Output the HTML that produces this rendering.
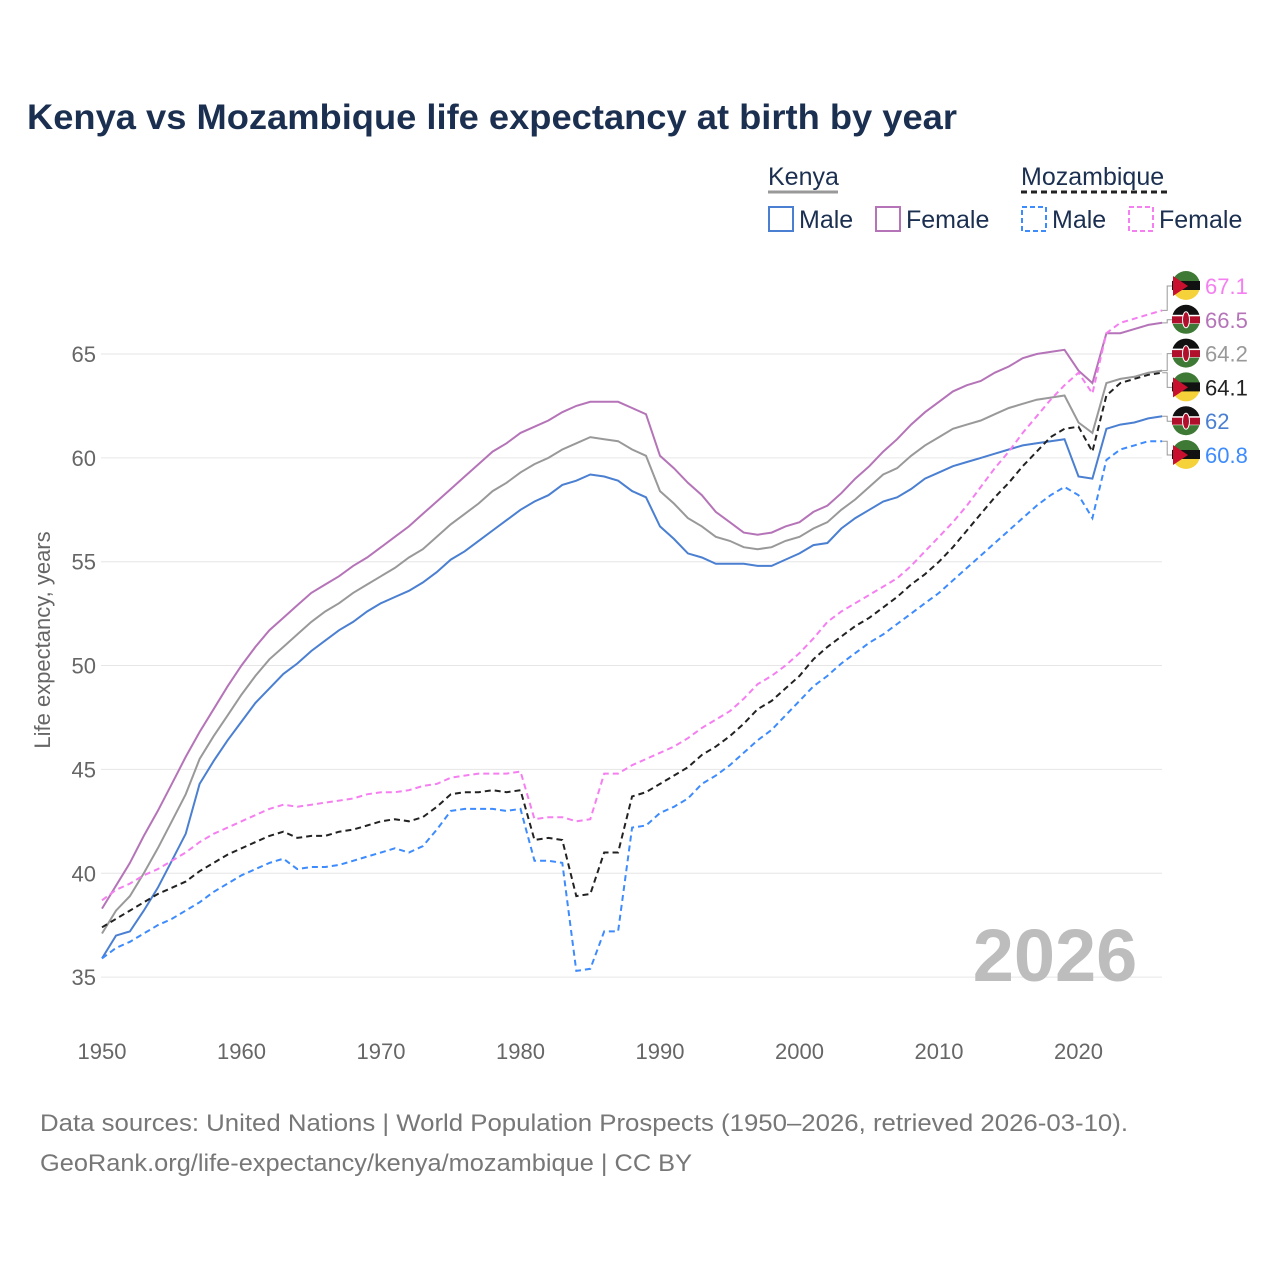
<!DOCTYPE html>
<html><head><meta charset="utf-8">
<style>
body{margin:0;background:#fff;font-family:"Liberation Sans",sans-serif;}
#wrap{position:relative;width:1280px;height:1280px;overflow:hidden;}
</style></head>
<body><div id="wrap">
<svg id="chart" width="1280" height="1280" xmlns="http://www.w3.org/2000/svg">
<text x="27" y="129" font-size="35" font-weight="bold" fill="#1b2f50" textLength="930" lengthAdjust="spacingAndGlyphs">Kenya vs Mozambique life expectancy at birth by year</text>
<g font-size="25" fill="#1b2f50">
 <text x="768" y="185">Kenya</text>
 <line x1="768" y1="192" x2="838" y2="192" stroke="#999" stroke-width="3"/>
 <rect x="769" y="207" width="24" height="24" fill="none" stroke="#4a7fd1" stroke-width="2"/>
 <text x="799" y="228">Male</text>
 <rect x="876" y="207" width="24" height="24" fill="none" stroke="#b574b8" stroke-width="2"/>
 <text x="906" y="228">Female</text>
 <text x="1021" y="185">Mozambique</text>
 <line x1="1021" y1="192" x2="1170" y2="192" stroke="#222" stroke-width="3" stroke-dasharray="6,4"/>
 <rect x="1022" y="207" width="24" height="24" fill="none" stroke="#3d8bfd" stroke-width="2" stroke-dasharray="5,3"/>
 <text x="1052" y="228">Male</text>
 <rect x="1129" y="207" width="24" height="24" fill="none" stroke="#f57ef0" stroke-width="2" stroke-dasharray="5,3"/>
 <text x="1159" y="228">Female</text>
</g>
<g id="grid"></g>
<text x="1055" y="981" font-size="74" font-weight="bold" fill="#bdbdbd" text-anchor="middle">2026</text>
<text transform="translate(50,640) rotate(-90)" font-size="22" fill="#666" text-anchor="middle">Life expectancy, years</text>
<g id="lines"></g>
<g id="labels"></g>
<text x="40" y="1131" font-size="24" fill="#777" textLength="1088" lengthAdjust="spacingAndGlyphs">Data sources: United Nations | World Population Prospects (1950–2026, retrieved 2026-03-10).</text>
<text x="40" y="1171" font-size="24" fill="#777" textLength="652" lengthAdjust="spacingAndGlyphs">GeoRank.org/life-expectancy/kenya/mozambique | CC BY</text>
</svg></div>
<script>
const startYear = 1950;
const xTicks = [1950,1960,1970,1980,1990,2000,2010,2020];
const yTicks = [35,40,45,50,55,60,65];
const kenyaFemale = [38.3,39.4,40.5,41.8,43.0,44.3,45.6,46.8,47.9,49.0,50.0,50.9,51.7,52.3,52.9,53.5,53.9,54.3,54.8,55.2,55.7,56.2,56.7,57.3,57.9,58.5,59.1,59.7,60.3,60.7,61.2,61.5,61.8,62.2,62.5,62.7,62.7,62.7,62.4,62.1,60.1,59.5,58.8,58.2,57.4,56.9,56.4,56.3,56.4,56.7,56.9,57.4,57.7,58.3,59.0,59.6,60.3,60.9,61.6,62.2,62.7,63.2,63.5,63.7,64.1,64.4,64.8,65.0,65.1,65.2,64.2,63.6,66.0,66.0,66.2,66.4,66.5];
const kenyaMale = [35.9,37.0,37.2,38.2,39.3,40.6,41.9,44.3,45.4,46.4,47.3,48.2,48.9,49.6,50.1,50.7,51.2,51.7,52.1,52.6,53.0,53.3,53.6,54.0,54.5,55.1,55.5,56.0,56.5,57.0,57.5,57.9,58.2,58.7,58.9,59.2,59.1,58.9,58.4,58.1,56.7,56.1,55.4,55.2,54.9,54.9,54.9,54.8,54.8,55.1,55.4,55.8,55.9,56.6,57.1,57.5,57.9,58.1,58.5,59.0,59.3,59.6,59.8,60.0,60.2,60.4,60.6,60.7,60.8,60.9,59.1,59.0,61.4,61.6,61.7,61.9,62.0];
const kenyaTotal = [37.1,38.2,38.9,40.0,41.2,42.5,43.8,45.5,46.6,47.6,48.6,49.5,50.3,50.9,51.5,52.1,52.6,53.0,53.5,53.9,54.3,54.7,55.2,55.6,56.2,56.8,57.3,57.8,58.4,58.8,59.3,59.7,60.0,60.4,60.7,61.0,60.9,60.8,60.4,60.1,58.4,57.8,57.1,56.7,56.2,56.0,55.7,55.6,55.7,56.0,56.2,56.6,56.9,57.5,58.0,58.6,59.2,59.5,60.1,60.6,61.0,61.4,61.6,61.8,62.1,62.4,62.6,62.8,62.9,63.0,61.7,61.2,63.6,63.8,63.9,64.1,64.2];
const mozFemale = [38.7,39.2,39.5,39.9,40.2,40.6,41.0,41.5,41.9,42.2,42.5,42.8,43.1,43.3,43.2,43.3,43.4,43.5,43.6,43.8,43.9,43.9,44.0,44.2,44.3,44.6,44.7,44.8,44.8,44.8,44.9,42.6,42.7,42.7,42.5,42.6,44.8,44.8,45.2,45.5,45.8,46.1,46.5,47.0,47.4,47.8,48.4,49.1,49.5,50.0,50.6,51.3,52.1,52.6,53.0,53.4,53.8,54.2,54.8,55.5,56.2,56.9,57.7,58.6,59.5,60.3,61.2,62.0,62.8,63.5,64.1,63.1,66.0,66.5,66.7,66.9,67.1];
const mozTotal = [37.4,37.8,38.2,38.6,39.0,39.3,39.6,40.1,40.5,40.9,41.2,41.5,41.8,42.0,41.7,41.8,41.8,42.0,42.1,42.3,42.5,42.6,42.5,42.7,43.2,43.8,43.9,43.9,44.0,43.9,44.0,41.6,41.7,41.6,38.9,39.0,41.0,41.0,43.7,43.9,44.3,44.7,45.1,45.7,46.1,46.6,47.2,47.9,48.3,48.9,49.5,50.3,50.9,51.4,51.9,52.3,52.8,53.3,53.9,54.4,55.0,55.7,56.5,57.3,58.1,58.8,59.6,60.3,61.0,61.4,61.5,60.3,63.0,63.6,63.8,64.0,64.1];
const mozMale = [35.9,36.4,36.7,37.1,37.5,37.8,38.2,38.6,39.1,39.5,39.9,40.2,40.5,40.7,40.2,40.3,40.3,40.4,40.6,40.8,41.0,41.2,41.0,41.3,42.1,43.0,43.1,43.1,43.1,43.0,43.1,40.6,40.6,40.5,35.3,35.4,37.2,37.2,42.2,42.3,42.9,43.2,43.6,44.3,44.7,45.2,45.8,46.4,46.9,47.6,48.3,49.0,49.5,50.1,50.6,51.1,51.5,52.0,52.5,53.0,53.5,54.1,54.7,55.3,55.9,56.5,57.1,57.7,58.2,58.6,58.2,57.1,59.9,60.4,60.6,60.8,60.8];

const NS='http://www.w3.org/2000/svg';
const X = yr => 102 + (yr-1950)*13.95;
const Y = v => 354 + (65-v)*20.77;
function mk(tag, attrs, parent){const e=document.createElementNS(NS,tag);for(const k in attrs)e.setAttribute(k,attrs[k]);parent.appendChild(e);return e;}
const grid=document.getElementById('grid');
yTicks.forEach(t=>{
  const l=mk('line',{x1:101,x2:1162,y1:Y(t),y2:Y(t),stroke:'#e6e6e6','stroke-width':1},grid);
  
  
  const tx=mk('text',{x:96,y:Y(t)+8,'font-size':22,fill:'#666','text-anchor':'end'},grid);
  tx.textContent=t;
  
  
});
xTicks.forEach(t=>{
  const tx=mk('text',{x:X(t),y:1059,'font-size':22,fill:'#666','text-anchor':'middle'},grid);
  tx.textContent=t;
  
  
});
const seriesList=[
 {d:kenyaTotal,c:'#999999',dash:null,n:'kenya-total'},
 {d:kenyaFemale,c:'#b574b8',dash:null,n:'kenya-female'},
 {d:kenyaMale,c:'#4a7fd1',dash:null,n:'kenya-male'},
 {d:mozFemale,c:'#f57ef0',dash:'6,4',n:'mozambique-female'},
 {d:mozMale,c:'#3d8bfd',dash:'6,4',n:'mozambique-male'},
 {d:mozTotal,c:'#222222',dash:'6,4',n:'mozambique-total'}
];
const lines=document.getElementById('lines');
seriesList.forEach(s=>{
  const pts=s.d.map((v,i)=>X(startYear+i).toFixed(1)+','+Y(v).toFixed(1)).join(' ');
  const a={points:pts,fill:'none',stroke:s.c,'stroke-width':2};
  if(s.dash)a['stroke-dasharray']=s.dash;
  const p=mk('polyline',a,lines);
  
  
});
const labelOrder=[
 {s:mozFemale,c:'#f57ef0',f:'moz',n:'mozambique-female'},
 {s:kenyaFemale,c:'#b574b8',f:'ken',n:'kenya-female'},
 {s:kenyaTotal,c:'#999999',f:'ken',n:'kenya-total'},
 {s:mozTotal,c:'#222222',f:'moz',n:'mozambique-total'},
 {s:kenyaMale,c:'#4a7fd1',f:'ken',n:'kenya-male'},
 {s:mozMale,c:'#3d8bfd',f:'moz',n:'mozambique-male'}
];
const labels=document.getElementById('labels');
const lx=X(2026);
labelOrder.forEach((L,i)=>{
  const ly=286+i*33.8;
  const v=L.s[L.s.length-1];
  mk('polyline',{points:`${lx},${Y(v)} ${lx+5},${Y(v)} ${lx+5},${ly} ${lx+10},${ly}`,fill:'none',stroke:'#999','stroke-width':1},labels);
  const g=mk('g',{},labels);
  
  
  const cx=1186, r=14;
  if(L.f==='moz'){
    mk('circle',{cx:cx,cy:ly,r:r,fill:'#f5d23a'},g);
    mk('path',{d:`M${cx-r},${ly-1} A${r},${r} 0 0 1 ${cx+r},${ly-1} Z`,fill:'#3e7a35'},g);
    mk('rect',{x:cx-r,y:ly-5,width:2*r,height:9,fill:'#111'},g);
    mk('path',{d:`M${cx-r+1},${ly-10} L${cx+2},${ly} L${cx-r+1},${ly+10} Z`,fill:'#c8102e'},g);
  } else {
    mk('circle',{cx:cx,cy:ly,r:r,fill:'#3e7a35'},g);
    mk('path',{d:`M${cx-r},${ly-1} A${r},${r} 0 0 1 ${cx+r},${ly-1} Z`,fill:'#111'},g);
    mk('rect',{x:cx-r,y:ly-5,width:2*r,height:9,fill:'#fff'},g);
    mk('rect',{x:cx-r,y:ly-3.5,width:2*r,height:7,fill:'#b0102b'},g);
    mk('ellipse',{cx:cx,cy:ly,rx:3.5,ry:8,fill:'#b0102b',stroke:'#fff','stroke-width':1},g);
  }
  const t=mk('text',{x:1205,y:ly+8,'font-size':22,fill:L.c},labels);
  t.textContent=String(v).replace(/\.0$/,'');
  
  
});
</script>
</body></html>
